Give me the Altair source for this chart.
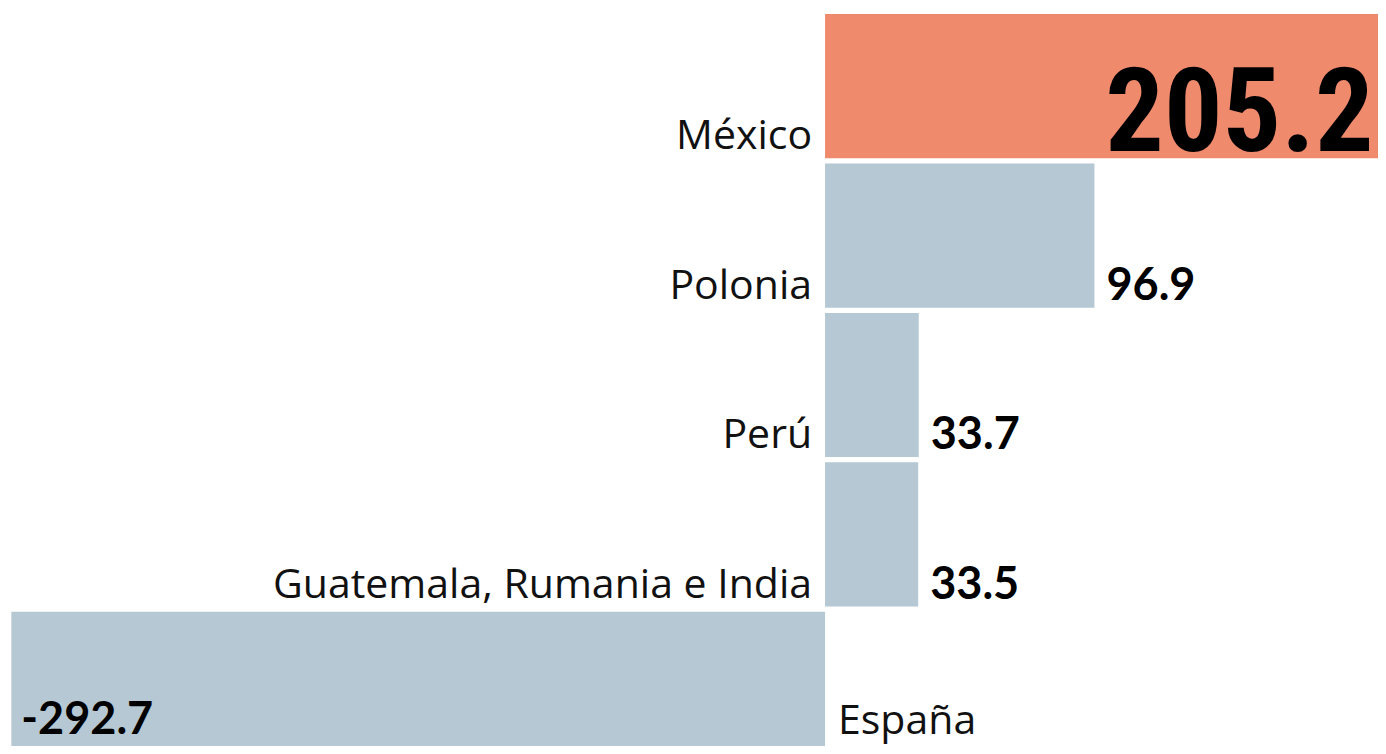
import altair as alt
import pandas as pd

categories = ["México", "Polonia", "Perú", "Guatemala, Rumania e India", "España"]
values = [205.2, 96.9, 33.7, 33.5, -292.7]
value_labels = ["205.2", "96.9", "33.7", "33.5", "-292.7"]
highlight = [True, False, False, False, False]

df = pd.DataFrame({
    "cat": categories,
    "value": values,
    "label": value_labels,
    "hl": highlight,
})
df["zero"] = 0.0

yscale = alt.Scale(domain=categories, range=[6, 748], paddingInner=0.035, paddingOuter=0)
xscale = alt.Scale(domain=[-293.9, 198.9], nice=False, zero=False)

base = alt.Chart(df)

bars = base.mark_bar(clip=True).encode(
    x=alt.X("value:Q", scale=xscale, axis=None, stack=None),
    x2=alt.X2("zero:Q"),
    y=alt.Y("cat:N", scale=yscale, axis=None),
    color=alt.Color("hl:N", scale=alt.Scale(domain=[True, False], range=["#F08A6C", "#B5C8D3"]), legend=None),
)

ytext = alt.Y("cat:N", scale=yscale, axis=None, bandPosition=1)

cat_pos = base.transform_filter("datum.value >= 0").mark_text(
    align="right", baseline="alphabetic", dx=-13, dy=-9,
    font="Open Sans", fontSize=41, color="#111111"
).encode(x=alt.X("zero:Q", scale=xscale), y=ytext, text="cat:N")

cat_neg = base.transform_filter("datum.value < 0").mark_text(
    align="left", baseline="alphabetic", dx=13, dy=-22,
    font="Open Sans", fontSize=41, color="#111111"
).encode(x=alt.X("zero:Q", scale=xscale), y=ytext, text="cat:N")

val_small = base.transform_filter("!datum.hl && datum.value >= 0").mark_text(
    align="left", baseline="alphabetic", dx=12, dy=-8,
    font="Lato", fontWeight="bold", fontSize=45, color="#000000"
).encode(x=alt.X("value:Q", scale=xscale), y=ytext, text="label:N")

val_neg = base.transform_filter("datum.value < 0").mark_text(
    align="left", baseline="alphabetic", dx=10, dy=-22,
    font="Lato", fontWeight="bold", fontSize=45, color="#000000"
).encode(x=alt.X("value:Q", scale=xscale), y=ytext, text="label:N")

val_big = base.transform_filter("datum.hl").mark_text(
    align="right", baseline="alphabetic", dx=-22, dy=-7,
    font="Roboto Condensed, Liberation Sans Narrow, DejaVu Sans Condensed",
    fontWeight="bold", fontSize=116, color="#000000"
).encode(x=alt.X("value:Q", scale=xscale), y=ytext, text="label:N")

chart = alt.layer(bars, cat_pos, cat_neg, val_small, val_neg, val_big).properties(
    width=1370, height=738,
    autosize=alt.AutoSizeParams(type="none"),
    padding=0,
).configure_view(stroke=None)

chart.save("out.html", embed_options={"renderer": "svg", "actions": False})
